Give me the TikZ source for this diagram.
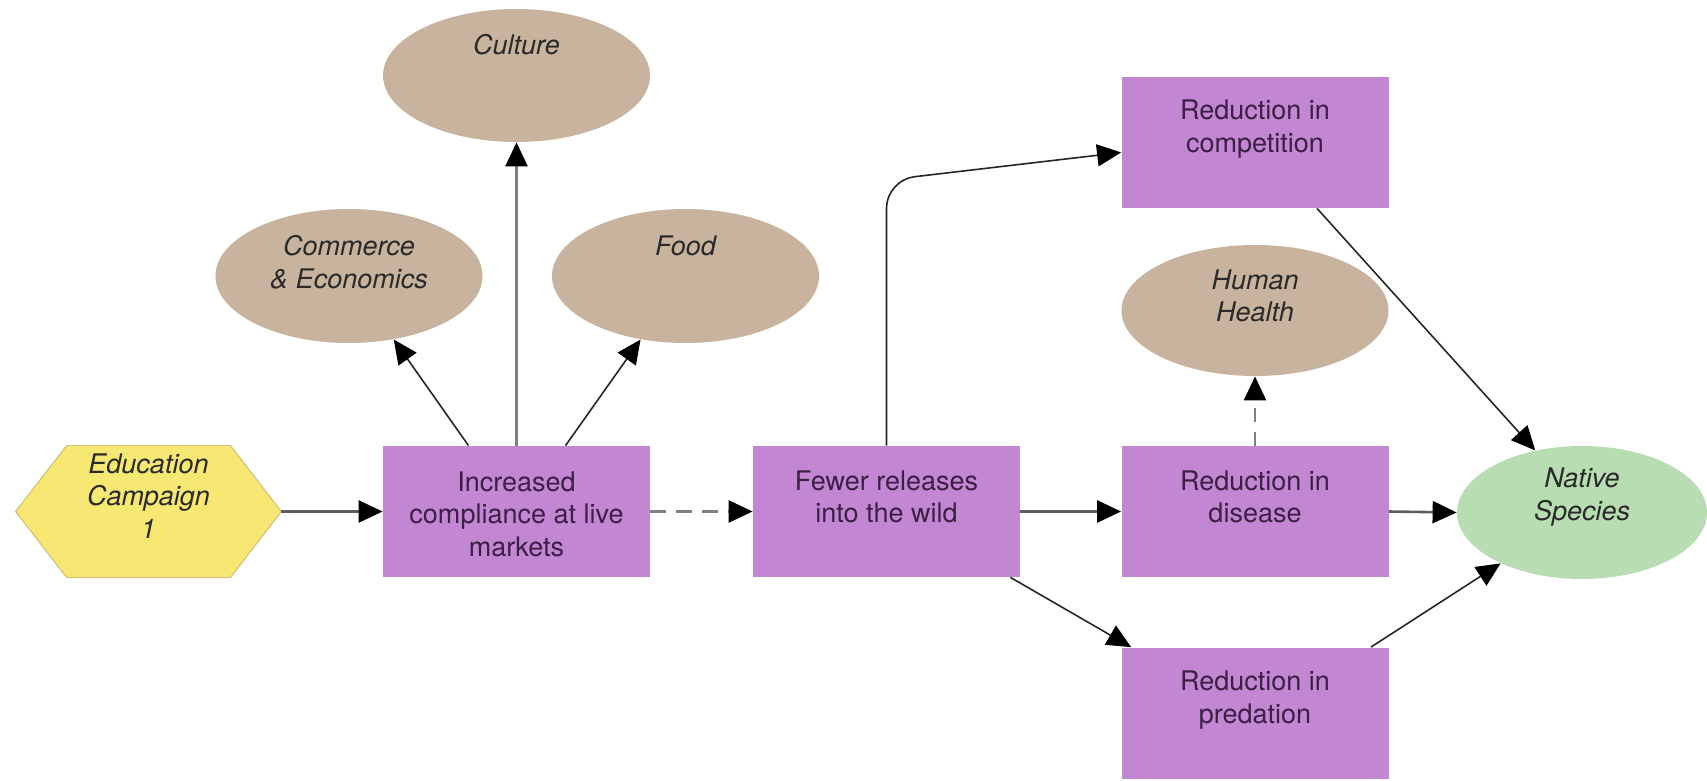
\documentclass[tikz,border=0pt]{standalone}
\usepackage{fontspec}
\setmainfont{TeX Gyre Heros}
\usetikzlibrary{shapes.geometric,arrows.meta,calc}
\definecolor{boxc}{HTML}{C286D2}
\definecolor{tanc}{HTML}{C8B49E}
\definecolor{hexc}{HTML}{F7E874}
\definecolor{hexb}{HTML}{D4C77A}
\definecolor{grnc}{HTML}{B9DDB3}
\definecolor{boxt}{HTML}{3B1F45}
\definecolor{itt}{HTML}{2A2A2A}
\definecolor{grayl}{HTML}{5E5E5E}
\definecolor{darkl}{HTML}{262626}
\tikzset{
  box/.style={rectangle, fill=boxc, minimum width=133.5pt, minimum height=65.5pt, inner sep=0pt},
  ell/.style={ellipse, fill=tanc, minimum width=133.5pt, minimum height=66.5pt, inner sep=0pt},
  txt/.style={align=center, font=\fontsize{13.5}{16.25}\selectfont, inner sep=0pt, text=boxt},
  itxt/.style={align=center, font=\fontsize{13.5}{16.25}\selectfont\itshape, inner sep=0pt, text=itt},
  tip/.style={-{Triangle[length=12pt,width=11pt,color=black]}},
  arrg/.style={tip, line width=1.3pt, draw=grayl},
  arrd/.style={tip, line width=0.8pt, draw=darkl},
}
\begin{document}
\begin{tikzpicture}[x=0.5pt,y=-0.5pt]
\useasboundingbox (0,0) rectangle (1707,781);
% shapes
\node[minimum width=132.5pt, minimum height=65.5pt, inner sep=0pt] (hex) at (148.5,511.5) {};
\filldraw[fill=hexc, draw=hexb, line width=0.6pt] (hex.west) -- ([xshift=25.5pt]hex.north west) -- ([xshift=-25.5pt]hex.north east) -- (hex.east) -- ([xshift=-25.5pt]hex.south east) -- ([xshift=25.5pt]hex.south west) -- cycle;
\node[box] (inc) at (516.5,511.5) {};
\node[box] (few) at (886.5,511.5) {};
\node[box] (dis) at (1255,511.5) {};
\node[box] (comp) at (1255,142.5) {};
\node[box] (pred) at (1255,713) {};
\node[ell, fill=grnc, minimum width=125pt] (nat) at (1582,512.5) {};
\node[ell, minimum height=65.5pt] (hh) at (1255,310.5) {};
\node[ell] (cult) at (516.5,75.5) {};
\node[ell, minimum height=67pt] (comm) at (349,276) {};
\node[ell, minimum height=67pt] (food) at (685.5,276) {};
% connectors
\draw[arrg] (hex.east) -- (inc.west);
\draw[arrg, dashed, dash pattern=on 8pt off 5pt, draw=gray] (inc.east) -- (few.west);
\draw[arrd] ([xshift=-24pt]inc.north) -- (comm);
\draw[arrg, draw=gray] (inc.north) -- (cult.south);
\draw[arrd] ([xshift=24.5pt]inc.north) -- (food);
\coordinate (bend) at (886.5,180);
\draw[arrd, rounded corners=14pt] (few.north) -- (bend) -- ([yshift=-5pt]comp.west);
\draw[arrg] (few.east) -- (dis.west);
\draw[arrd] ([xshift=-5pt]few.south east) -- ([xshift=5pt]pred.north west);
\draw[arrg, dashed, dash pattern=on 7pt off 5pt, draw=gray] (dis.north) -- (hh.south);
\draw[arrg] (dis.east) -- (nat.west);
\draw[arrd] ([xshift=31pt]comp.south) -- (nat.127);
\draw[arrd] ([xshift=-9pt]pred.north east) -- (nat.212);
% texts
\node[itxt] (hexT) at (148.5,496) {Education\\Campaign\\1};
\node[txt] (incT) at (516.5,514) {Increased\\compliance at live\\markets};
\node[txt] (fewT) at (886.5,497) {Fewer releases\\into the wild};
\node[txt] (disT) at (1255,497) {Reduction in\\disease};
\node[txt] (compT) at (1255,129) {Reduction in\\competition};
\node[txt] (predT) at (1255,700) {Reduction in\\predation};
\node[itxt] (natT) at (1582,497) {Native\\Species};
\node[itxt] (hhT) at (1255,296) {Human\\Health};
\node[itxt] (commT) at (349,262) {Commerce\\\& Economics};
\node[itxt] (foodT) at (685.5,246) {Food};
\node[itxt] (cultT) at (516.5,45) {Culture};
\end{tikzpicture}
\end{document}
